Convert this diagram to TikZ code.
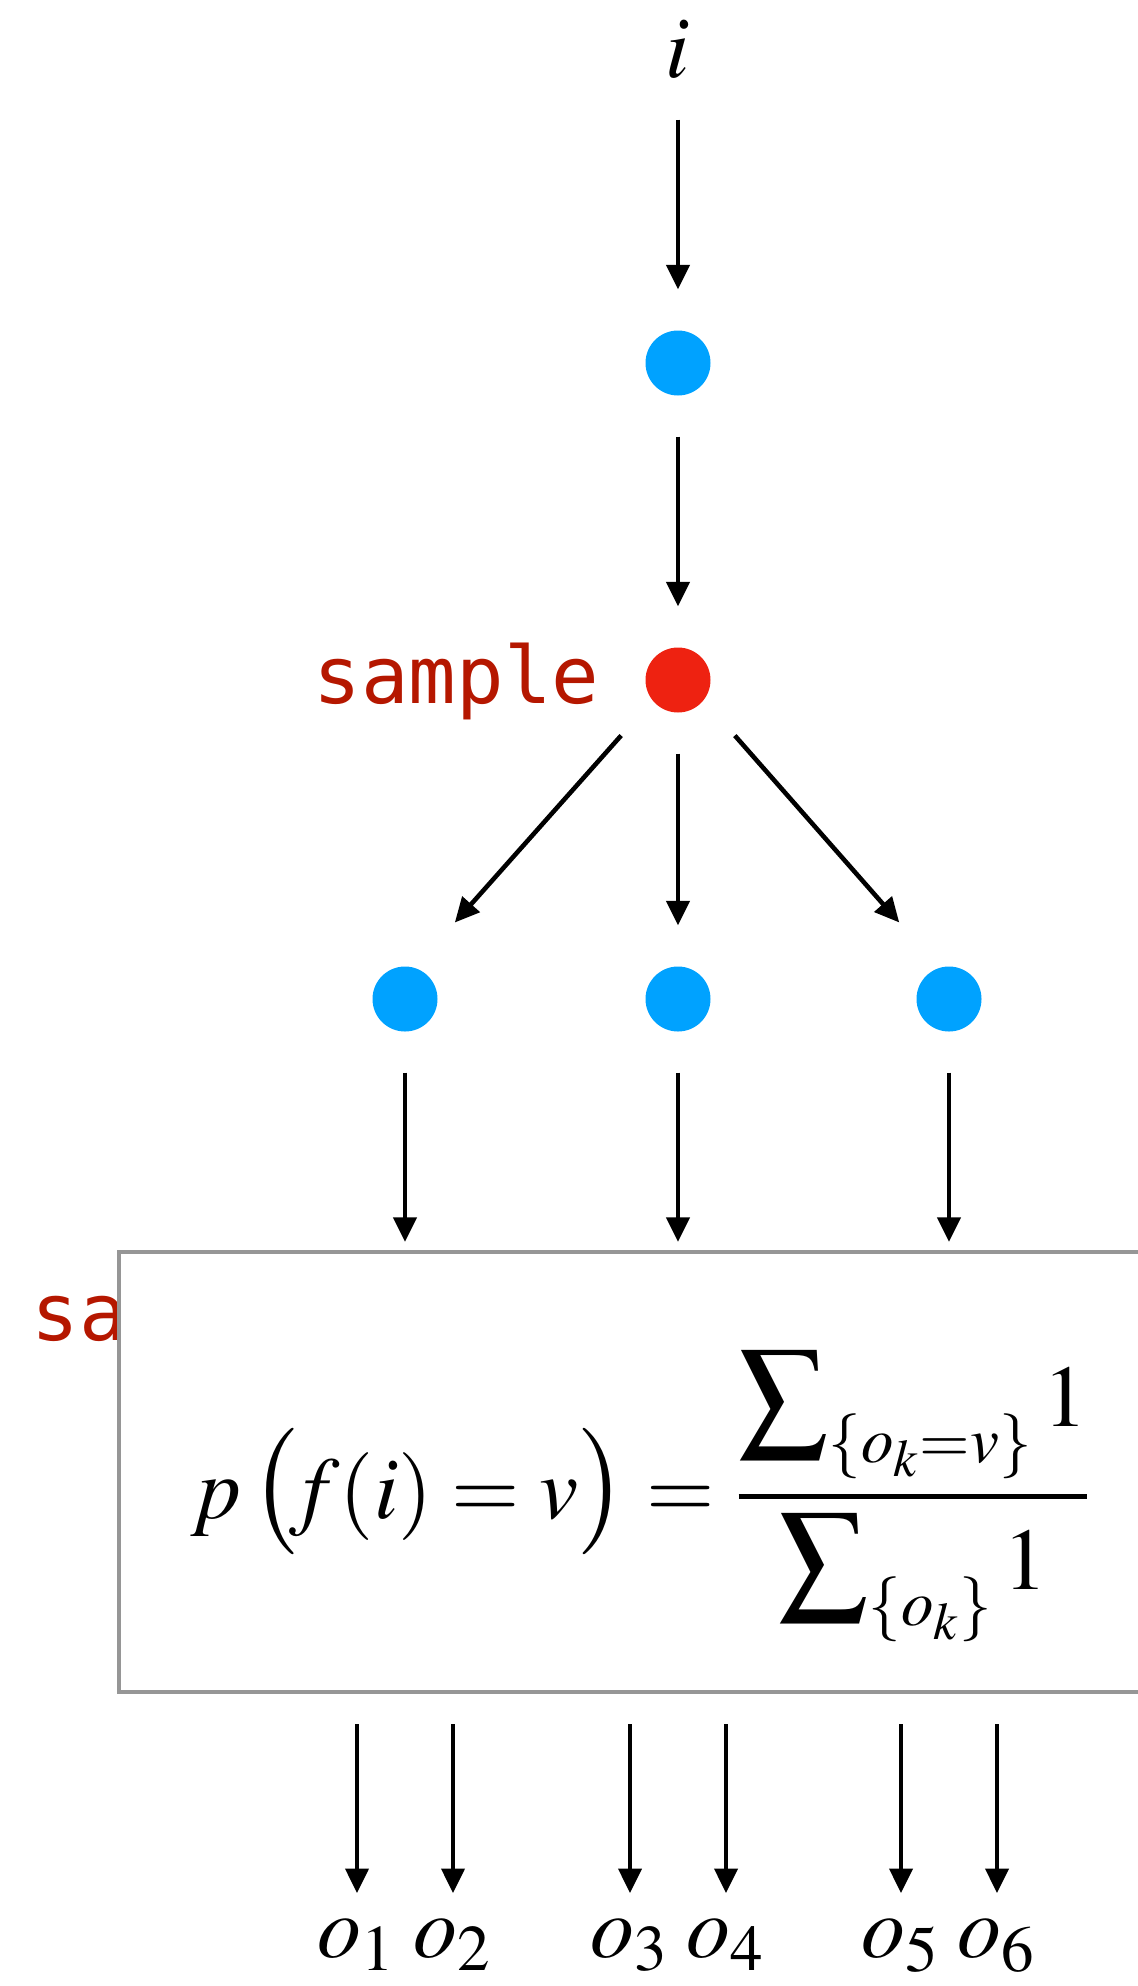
\documentclass[tikz,border=0pt]{standalone}
\usepackage{mathptmx}
\usepackage{amsmath}
\usepackage{graphicx}
\usepackage[no-math]{fontspec}
\newfontfamily\codefont{DejaVu Sans Mono}
\usepackage{tikz}
\usetikzlibrary{arrows.meta}

\definecolor{dotblue}{RGB}{0,162,255}
\definecolor{dotred}{RGB}{238,34,17}
\definecolor{codered}{RGB}{181,23,0}
\definecolor{boxgray}{RGB}{150,150,150}

\newcommand{\lpar}{\mathopen{\scalebox{1.2}{$\bigl($}}}
\newcommand{\rpar}{\mathclose{\scalebox{1.2}{$\bigr)$}}}

\begin{document}
\begin{tikzpicture}[
    dot/.style={circle, fill=dotblue, minimum size=0.65cm, inner sep=0pt, outer sep=0.41cm},
    reddot/.style={dot, fill=dotred},
    var/.style={inner sep=0pt, anchor=base, font=\fontsize{25}{30}\selectfont},
    code/.style={inner sep=0pt, color=codered, font=\fontsize{22.5}{27}\selectfont\codefont},
    frame/.style={draw=boxgray, line width=1.2pt, fill=white, inner sep=0pt,
                  minimum width=10.9cm, minimum height=4.4cm, anchor=north west},
    arr/.style={-{Triangle[length=7pt, width=6.5pt]}, line width=1.3pt},
]
\useasboundingbox (0,0) rectangle (11.38,-19.86);
\clip (0,0) rectangle (11.38,-19.86);

% ── Input and sampling chain ──────────────────────────
\node[var] (inp) at (6.78,-0.78) {$i$};
\node[dot] (top) at (6.78,-3.63) {};
\node[reddot] (samp) at (6.78,-6.80) {};
\node[code, anchor=base east] (samplbl) at (6.00,-7.03) {sample};

% ── Branches ──────────────────────────────────────────
\node[dot] (left)  at (4.05,-9.99) {};
\node[dot] (mid)   at (6.78,-9.99) {};
\node[dot] (right) at (9.49,-9.99) {};

% ── Estimator box (covers its own label) ──────────────
\node[code, anchor=base west] (boxlbl) at (0.31,-13.40) {sample};
\node[frame] (box) at (1.17,-12.50) {};
\node[inner sep=0pt, anchor=base west, font=\fontsize{25}{30}\selectfont] (formula)
    at (1.90,-15.18)
    {$\displaystyle p\,\lpar\!f(i)=v\rpar=
     \genfrac{}{}{1.4pt}{}{\displaystyle\sum\nolimits_{\{o_k=v\}}1}{\displaystyle\sum\nolimits_{\{o_k\}}1}$};

% ── Outputs ───────────────────────────────────────────
\node[var] (o1) at (3.57,-19.57) {$o_1$};
\node[var] (o2) at (4.53,-19.57) {$o_2$};
\node[var] (o3) at (6.30,-19.57) {$o_3$};
\node[var] (o4) at (7.26,-19.57) {$o_4$};
\node[var] (o5) at (9.01,-19.57) {$o_5$};
\node[var] (o6) at (9.97,-19.57) {$o_6$};

% ── Chain arrows ──────────────────────────────────────
\draw[arr, shorten <=0.40cm] (inp) -- (top);
\draw[arr] (top) -- (samp);

% ── Fan-out ───────────────────────────────────────────
\draw[arr, shorten <=0.06cm, shorten >=0.18cm] (samp.224) -- (left.59);
\draw[arr] (samp) -- (mid);
\draw[arr, shorten <=0.06cm, shorten >=0.18cm] (samp.316) -- (right.121);

% ── Into the box ──────────────────────────────────────
\draw[arr, shorten >=0.08cm] (left)  -- (left  |- box.north);
\draw[arr, shorten >=0.08cm] (mid)   -- (mid   |- box.north);
\draw[arr, shorten >=0.08cm] (right) -- (right |- box.north);

% ── Out of the box ────────────────────────────────────
\draw[arr, shorten <=0.30cm, shorten >=0.25cm] (box.south -| o1) -- (o1);
\draw[arr, shorten <=0.30cm, shorten >=0.25cm] (box.south -| o2) -- (o2);
\draw[arr, shorten <=0.30cm, shorten >=0.25cm] (box.south -| o3) -- (o3);
\draw[arr, shorten <=0.30cm, shorten >=0.25cm] (box.south -| o4) -- (o4);
\draw[arr, shorten <=0.30cm, shorten >=0.25cm] (box.south -| o5) -- (o5);
\draw[arr, shorten <=0.30cm, shorten >=0.25cm] (box.south -| o6) -- (o6);

\end{tikzpicture}
\end{document}
